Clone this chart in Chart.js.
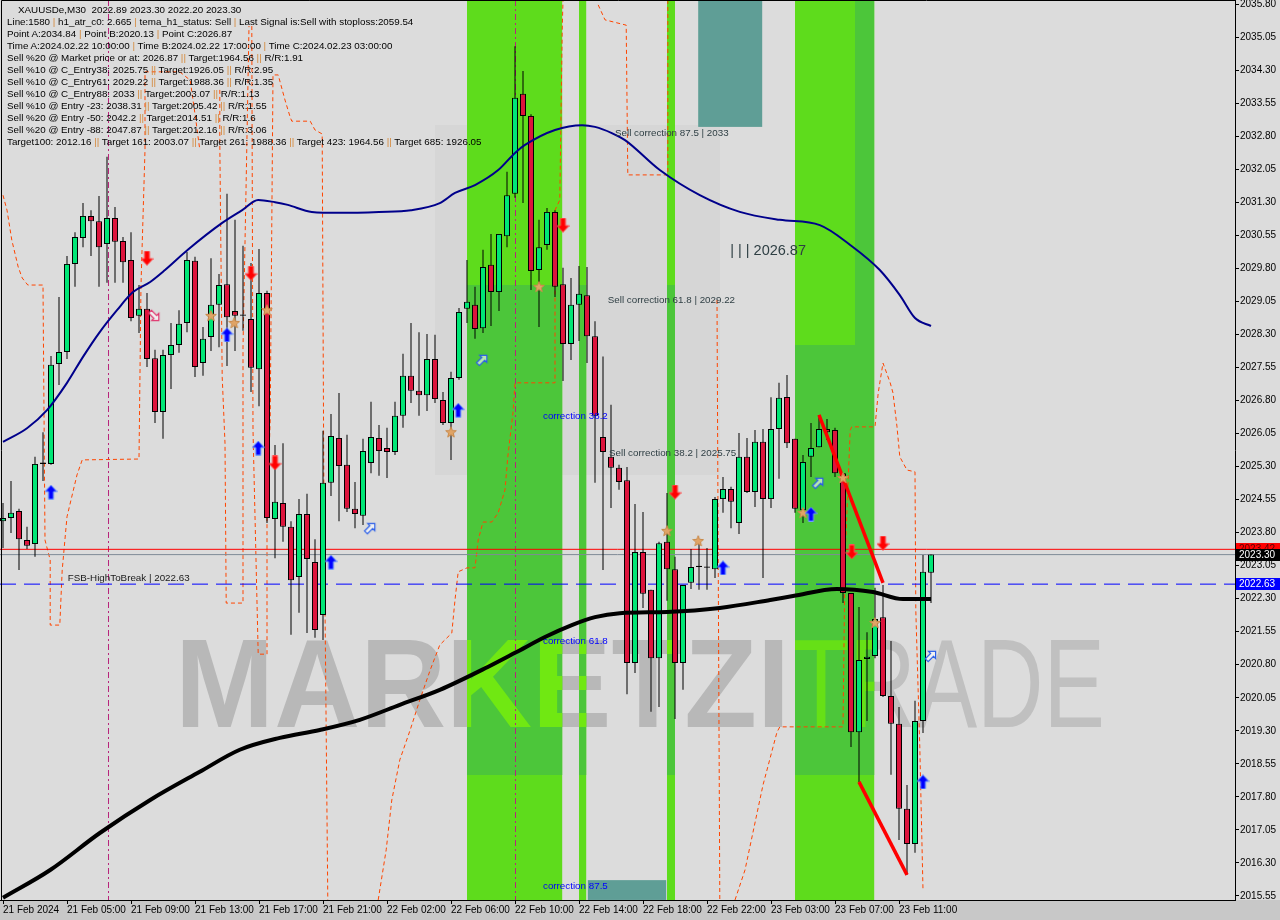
<!DOCTYPE html>
<html>
<head>
<meta charset="utf-8">
<script src="https://cdn.jsdelivr.net/npm/chart.js@4.4.1/dist/chart.umd.min.js"></script>
<style>
  html, body { margin: 0; padding: 0; background: #dcdcdc; }
  #wrap { position: relative; width: 1280px; height: 920px; overflow: hidden; }
  #chart { position: absolute; left: 0; top: 0; }
  #info { position: absolute; left: 7px; top: 4px; font: 9.8px "Liberation Sans", Arial, sans-serif; line-height: 12px; color: #000; white-space: pre; }
  #info .p { color: #d4883a; }
  #info .first { padding-left: 11px; }
</style>
</head>
<body>
<div id="wrap">
  <canvas id="chart" width="1280" height="920"></canvas>
  <div id="info"></div>
</div>
<script>
  "use strict";

  // XAUUSDe M30, bar 0 = 21 Feb 01:00
  const xTickIdx = [0, 8, 16, 24, 32, 40, 48, 56, 64, 72, 80, 88, 96, 104, 112];
  const xTickLabels = ['21 Feb 2024', '21 Feb 05:00', '21 Feb 09:00', '21 Feb 13:00', '21 Feb 17:00', '21 Feb 21:00',
    '22 Feb 02:00', '22 Feb 06:00', '22 Feb 10:00', '22 Feb 14:00', '22 Feb 18:00', '22 Feb 22:00',
    '23 Feb 03:00', '23 Feb 07:00', '23 Feb 11:00'];
  const yTicks = [2015.55, 2016.30, 2017.05, 2017.80, 2018.55, 2019.30, 2020.05, 2020.80, 2021.55, 2022.30,
    2023.05, 2023.80, 2024.55, 2025.30, 2026.05, 2026.80, 2027.55, 2028.30, 2029.05, 2029.80,
    2030.55, 2031.30, 2032.05, 2032.80, 2033.55, 2034.30, 2035.05, 2035.80];

  const opens = [
    2024.06, 2024.13, 2024.29, 2023.63, 2023.54, 2025.36, 2025.36, 2027.63, 2027.90, 2029.90,
    2030.49, 2030.99, 2030.87, 2030.35, 2030.94, 2030.42, 2029.99, 2028.72, 2028.88, 2027.76,
    2026.54, 2027.83, 2028.06, 2028.56, 2029.97, 2027.65, 2028.24, 2028.97, 2029.44, 2028.83,
    2028.72, 2028.65, 2027.51, 2029.24, 2024.11, 2024.47, 2023.93, 2022.79, 2024.22, 2023.13,
    2021.93, 2024.93, 2025.95, 2025.34, 2024.34, 2024.18, 2025.38, 2025.95, 2025.72, 2025.63,
    2026.45, 2027.36, 2027.02, 2026.92, 2027.74, 2026.81, 2026.29, 2027.31, 2028.88, 2028.97,
    2028.44, 2029.88, 2029.26, 2030.53, 2031.49, 2033.76, 2033.26, 2029.76, 2030.33, 2031.08,
    2029.44, 2028.08, 2028.97, 2029.19, 2028.26, 2025.97, 2025.52, 2025.27, 2024.99, 2020.84,
    2023.36, 2022.50, 2020.95, 2023.59, 2022.97, 2020.84, 2022.66, 2023.02, 2023.02, 2022.97,
    2024.56, 2024.79, 2024.02, 2025.52, 2024.72, 2025.86, 2024.56, 2026.15, 2026.88, 2025.93,
    2024.31, 2025.52, 2025.74, 2026.15, 2026.13, 2025.15, 2022.43, 2019.27, 2020.93, 2021.00,
    2021.88, 2020.09, 2019.46, 2017.53, 2016.73, 2019.52, 2022.89
  ];
  const highs = [
    2024.47, 2024.97, 2024.34, 2023.93, 2025.52, 2026.08, 2027.81, 2029.15, 2030.08, 2030.62,
    2031.28, 2031.12, 2031.44, 2032.33, 2031.19, 2030.51, 2030.62, 2029.42, 2029.24, 2027.95,
    2027.95, 2028.56, 2028.85, 2030.17, 2030.06, 2028.47, 2030.03, 2029.67, 2031.49, 2030.90,
    2030.31, 2029.92, 2030.24, 2029.29, 2025.79, 2025.83, 2024.06, 2024.56, 2024.68, 2023.65,
    2026.11, 2026.49, 2026.97, 2026.02, 2024.95, 2025.93, 2026.77, 2026.24, 2026.18, 2026.77,
    2027.86, 2028.56, 2028.35, 2028.31, 2028.29, 2026.99, 2027.45, 2028.90, 2029.99, 2029.38,
    2030.22, 2030.58, 2030.58, 2031.99, 2034.84, 2034.28, 2033.30, 2030.90, 2031.17, 2031.12,
    2029.81, 2029.58, 2029.85, 2029.83, 2028.60, 2027.80, 2026.70, 2025.34, 2025.29, 2024.45,
    2024.27, 2022.50, 2023.59, 2024.70, 2023.25, 2022.61, 2023.43, 2023.59, 2023.45, 2024.61,
    2025.06, 2024.84, 2026.06, 2025.95, 2026.13, 2026.15, 2026.87, 2027.20, 2027.38, 2025.93,
    2025.56, 2026.29, 2026.47, 2026.38, 2026.18, 2025.15, 2022.43, 2022.11, 2021.54, 2022.55,
    2022.61, 2021.34, 2019.84, 2018.07, 2019.98, 2023.29, 2023.30
  ];
  const lows = [
    2023.45, 2023.79, 2022.95, 2023.43, 2023.25, 2024.97, 2025.34, 2027.15, 2027.74, 2029.38,
    2030.28, 2030.08, 2029.38, 2029.47, 2029.47, 2029.47, 2028.60, 2028.33, 2027.56, 2026.29,
    2025.93, 2027.06, 2027.88, 2028.35, 2027.33, 2027.36, 2027.92, 2028.01, 2027.58, 2027.92,
    2028.38, 2026.99, 2026.67, 2024.02, 2023.22, 2023.59, 2021.48, 2021.98, 2021.52, 2021.41,
    2021.36, 2024.63, 2024.06, 2024.27, 2023.90, 2023.97, 2025.15, 2025.09, 2025.04, 2025.56,
    2026.18, 2026.74, 2026.45, 2026.56, 2026.74, 2026.24, 2025.45, 2027.27, 2028.56, 2028.20,
    2028.33, 2028.49, 2028.83, 2030.28, 2031.40, 2031.28, 2029.31, 2028.47, 2030.22, 2029.15,
    2027.24, 2027.72, 2028.15, 2027.65, 2024.93, 2022.95, 2024.36, 2024.77, 2020.13, 2020.61,
    2022.09, 2019.73, 2019.84, 2022.25, 2019.57, 2020.23, 2022.52, 2022.50, 2022.50, 2022.77,
    2024.25, 2023.90, 2023.77, 2024.70, 2024.38, 2022.77, 2024.36, 2025.02, 2025.72, 2024.25,
    2024.02, 2025.06, 2025.74, 2025.90, 2025.06, 2022.20, 2018.93, 2018.14, 2019.52, 2020.95,
    2020.07, 2018.30, 2016.82, 2016.03, 2016.53, 2019.25, 2022.20
  ];
  const closes = [
    2024.13, 2024.25, 2023.65, 2023.50, 2025.36, 2025.36, 2027.61, 2027.90, 2029.90, 2030.51,
    2030.99, 2030.87, 2030.28, 2030.94, 2030.40, 2029.94, 2028.67, 2028.88, 2027.74, 2026.54,
    2027.83, 2028.06, 2028.54, 2029.99, 2027.56, 2028.20, 2028.97, 2029.42, 2028.69, 2028.72,
    2028.72, 2027.54, 2029.24, 2024.13, 2024.50, 2023.93, 2022.72, 2024.22, 2023.20, 2021.59,
    2024.93, 2025.99, 2025.31, 2024.34, 2024.22, 2025.65, 2025.97, 2025.65, 2025.63, 2026.45,
    2027.36, 2027.02, 2026.92, 2027.74, 2026.83, 2026.29, 2027.31, 2028.81, 2029.04, 2028.42,
    2029.83, 2029.26, 2030.58, 2031.46, 2033.67, 2033.26, 2029.74, 2030.28, 2031.08, 2029.38,
    2028.08, 2028.97, 2029.22, 2028.26, 2026.45, 2025.63, 2025.27, 2024.95, 2020.84, 2023.36,
    2022.41, 2020.95, 2023.56, 2022.97, 2020.84, 2022.61, 2023.02, 2023.02, 2023.00, 2024.56,
    2024.79, 2024.50, 2025.52, 2024.72, 2025.86, 2024.56, 2026.15, 2026.86, 2025.83, 2024.34,
    2025.40, 2025.72, 2026.15, 2026.08, 2025.15, 2022.43, 2019.27, 2020.91, 2020.98, 2021.84,
    2020.09, 2019.46, 2017.53, 2016.73, 2019.52, 2022.91, 2023.30
  ];

  // moving averages (bar index, price)
  const blueMaIdx = [0, 3, 5.5, 8, 10, 12, 14.25, 16.25, 18.4, 20.25, 23.1, 27.4, 29.9, 31.9, 34, 35.6, 38.6, 42, 47, 51,
    54.6, 56.5, 59, 61.9, 64, 65.25, 69, 72.4, 74, 76.1, 77.75, 82.1, 87.1, 92.1, 97.1, 102.1, 105.9, 109.6, 112.1, 114, 116];
  const blueMaVal = [2025.86, 2026.17, 2026.58, 2027.20, 2027.79, 2028.33, 2028.85, 2029.26, 2029.49, 2029.76,
    2030.22, 2030.83, 2031.12, 2031.35, 2031.30, 2031.24, 2031.08, 2031.06, 2031.08, 2031.12,
    2031.28, 2031.51, 2031.69, 2032.03, 2032.42, 2032.60, 2032.94, 2033.05, 2033.01, 2032.87,
    2032.71, 2032.03, 2031.46, 2031.08, 2030.90, 2030.78, 2030.33, 2029.76, 2029.19, 2028.67, 2028.49];
  const blackMaIdx = [0, 5.9, 12.1, 18.4, 24.6, 29.6, 34.6, 39.6, 44.6, 49.6, 54.6, 60.6, 64, 67.75, 71.1, 74, 77.1,
    83, 89.6, 95.9, 98.75, 104.25, 108.75, 112.5, 116];
  const blackMaVal = [2015.51, 2016.14, 2016.98, 2017.73, 2018.37, 2018.87, 2019.14, 2019.32, 2019.55, 2019.89,
    2020.23, 2020.75, 2021.07, 2021.43, 2021.70, 2021.88, 2021.97, 2022.00, 2022.09, 2022.27,
    2022.36, 2022.52, 2022.45, 2022.29, 2022.29];

  // orange dashed channel, null = break
  const orangeIdx = [0, 0.5, 1.1, 1.9, 2.4, 3.1, 5, 5.25, 5.9, 5.9, 7.1, 7.4, 8, 9.25, 9.9, 17, 17.25, 17.75, 17.75, 22.1, 23.4, 24.1, 24.6, 24.6,
    27.1, 27.1, 27.4, 27.75, 27.9, 30, 30, 30.4, 30.75, 30.75,
    31.1, 31.25, 31.9, 33, 33, 33.4, 33.75, 34.4, 35.25, 35.9, 36.1, 38.4, 39, 39.9, 40.1, 40.6, 40.6,
    46.9, 47.9, 48.6, 49.6, 50.9, 52.1, 53.4, 54.6, 56.1, 56.5, 56.9, 58, 59, 59.4, 60, 61.1, 61.9, 62.75, 63.1, 63.75, 64, 69, 69, 69.6, 69.9, 70, 70,
    74.4, 75.25, 77.9, 78.1, 83.1, 83.1, 83.1,
    89.25, 89.6, 89.6,
    91.5, 92.75, 95, 95.6, 96.25, 96.75, 97.1, 105, 105.25, 105.9, 106.1, 109, 109.4, 110, 110.9, 111.25, 111.75, 112.1, 113, 114, 114.1, 114.6, 115];
  const orangeVal = [2031.46, 2031.12, 2030.44, 2029.83, 2029.58, 2029.42, 2029.42, 2023.63, 2023.18, 2021.70, 2021.70, 2022.95, 2024.16, 2025.11, 2025.45, 2025.47, 2029.42, 2032.49, 2034.26, 2034.26, 2034.07, 2033.17, 2032.49, null,
    2033.85, 2032.65, 2027.33, 2025.83, 2022.20, 2022.20, 2028.01, 2031.80, 2035.30, null,
    2035.30, 2026.13, 2021.04, 2021.04, 2024.20, 2026.36, 2034.19, 2034.19, 2033.62, 2033.23, 2033.14, 2033.14, 2032.94, 2032.85, 2024.99, 2015.46, null,
    2015.46, 2016.60, 2017.73, 2018.64, 2019.32, 2020.00, 2020.68, 2021.25, 2021.52, 2022.27, 2022.91, 2023.00, 2023.00, 2023.63, 2024.04, 2024.04, 2024.25, 2024.77, 2025.52, 2026.52, 2027.20, 2027.20, 2031.12, 2031.35, 2035.21, 2035.89, null,
    2035.78, 2035.44, 2035.32, 2031.92, 2031.92, 2035.89, null,
    2029.08, 2015.46, null,
    2015.46, 2016.14, 2018.07, 2018.48, 2018.93, 2019.27, 2019.39, 2019.39, 2023.18, 2026.13, 2026.20, 2026.20, 2026.97, 2027.65, 2027.20, 2026.97, 2026.20, 2025.52, 2025.22, 2025.18, 2022.04, 2018.93, 2015.69];

  // ABC pattern legs
  const legOneIdx = [102, 110];
  const legOneVal = [2026.47, 2022.66];
  const legTwoIdx = [107, 113];
  const legTwoVal = [2018.14, 2016.03];

  // signal markers
  const sellArrowIdx = [18, 31, 34, 70, 84, 106.1, 110];
  const sellArrowVal = [2030.03, 2029.69, 2025.38, 2030.78, 2024.72, 2023.36, 2023.56];
  const buyArrowIdx = [6, 28, 31.9, 41, 56.9, 90, 101, 115];
  const buyArrowVal = [2024.72, 2028.29, 2025.72, 2023.13, 2026.58, 2023.00, 2024.22, 2018.14];
  const hollowUpIdx = [45.9, 59.9, 101.9, 116];
  const hollowUpVal = [2023.90, 2027.72, 2024.93, 2021.00];
  const hollowDownIdx = [18.9];
  const hollowDownVal = [2028.72];
  const starIdx = [26, 28.9, 33, 56, 67, 83, 86.9, 100, 105, 109];
  const starVal = [2028.72, 2028.56, 2028.85, 2026.08, 2029.38, 2023.84, 2023.61, 2024.25, 2025.04, 2021.75];

  // zones
  const bandFrom = [58, 72, 83, 99];
  const bandTo = [69.9, 72.9, 84, 108.9];
  const boxFrom = [86.9, 73.1];
  const boxTo = [94.9, 82.9];
  const boxLow = [2033.01, 2015.46];
  const boxHigh = [2035.89, 2015.91];
  const sepIdx = [13.1, 64];

  const askPrice = 2023.42;
  const bidPrice = 2023.30;
  const fsbPrice = 2022.63;

  const noteTexts = ['Sell correction 87.5 | 2033', '| | | 2026.87', 'Sell correction 61.8 | 2029.22', 'correction 38.2',
    'Sell correction 38.2 | 2025.75', 'correction 61.8', 'correction 87.5', 'FSB-HighToBreak | 2022.63'];
  const noteIdx = [76.5, 90.9, 75.6, 67.5, 75.75, 67.5, 67.5, 8.1];
  const noteVal = [2032.87, 2030.19, 2029.08, 2026.45, 2025.61, 2021.34, 2015.78, 2022.77];
  const noteKind = ['dark', 'big', 'dark', 'blue', 'dark', 'blue', 'blue', 'black'];

  const infoLines = [
    'XAUUSDe,M30  2022.89 2023.30 2022.20 2023.30',
    'Line:1580 | h1_atr_c0: 2.665 | tema_h1_status: Sell | Last Signal is:Sell with stoploss:2059.54',
    'Point A:2034.84 | Point B:2020.13 | Point C:2026.87',
    'Time A:2024.02.22 10:00:00 | Time B:2024.02.22 17:00:00 | Time C:2024.02.23 03:00:00',
    'Sell %20 @ Market price or at: 2026.87 || Target:1964.56 || R/R:1.91',
    'Sell %10 @ C_Entry38: 2025.75 || Target:1926.05 || R/R:2.95',
    'Sell %10 @ C_Entry61: 2029.22 || Target:1988.36 || R/R:1.35',
    'Sell %10 @ C_Entry88: 2033 || Target:2003.07 || R/R:1.13',
    'Sell %10 @ Entry -23: 2038.31 || Target:2005.42 || R/R:1.55',
    'Sell %20 @ Entry -50: 2042.2 || Target:2014.51 || R/R:1.6',
    'Sell %20 @ Entry -88: 2047.87 || Target:2012.16 || R/R:3.06',
    'Target100: 2012.16 || Target 161: 2003.07 || Target 261: 1988.36 || Target 423: 1964.56 || Target 685: 1926.05'
  ];

  document.getElementById('info').innerHTML = infoLines.map(function (l, i) {
    const html = l.replace(/\|/g, '<span class="p">|</span>');
    return i === 0 ? '<span class="first">' + html + '</span>' : html;
  }).join('\n');

  const FONT = '"Liberation Sans", Arial, sans-serif';
  const GREEN = '#00e676';
  const RED = '#dc143c';

  // marker images
  function arrowImage(fill, edge, up) {
    const c = document.createElement('canvas');
    c.width = 13; c.height = 15;
    const g = c.getContext('2d');
    let pts = [[6.5, 0.5], [12.5, 7], [9, 7], [9, 14.5], [4, 14.5], [4, 7], [0.5, 7]];
    if (!up) pts = pts.map(p => [p[0], 15 - p[1]]);
    g.beginPath();
    pts.forEach((p, i) => i ? g.lineTo(p[0], p[1]) : g.moveTo(p[0], p[1]));
    g.closePath();
    g.fillStyle = fill; g.fill();
    g.strokeStyle = edge; g.lineWidth = 1; g.stroke();
    return c;
  }
  function hollowImage(color, angle) {
    const c = document.createElement('canvas');
    c.width = 16; c.height = 16;
    const g = c.getContext('2d');
    g.translate(8, 8); g.rotate(angle);
    g.beginPath();
    [[0, -6.5], [5, -1.5], [2, -1.5], [2, 6], [-2, 6], [-2, -1.5], [-5, -1.5]].forEach((p, i) => i ? g.lineTo(p[0], p[1]) : g.moveTo(p[0], p[1]));
    g.closePath();
    g.fillStyle = 'rgba(255,255,255,0.6)'; g.fill();
    g.strokeStyle = color; g.lineWidth = 1.2; g.stroke();
    return c;
  }
  function starImage() {
    const c = document.createElement('canvas');
    c.width = 12; c.height = 12;
    const g = c.getContext('2d');
    g.beginPath();
    for (let k = 0; k < 10; k++) {
      const r = k % 2 ? 2.4 : 5.6;
      const a = -Math.PI / 2 + k * Math.PI / 5;
      const x = 6 + r * Math.cos(a), y = 6.3 + r * Math.sin(a);
      k ? g.lineTo(x, y) : g.moveTo(x, y);
    }
    g.closePath();
    g.fillStyle = '#e0a466'; g.fill();
    g.strokeStyle = '#c98a4a'; g.stroke();
    return c;
  }

  const pairs = (xs, ys) => xs.map((x, i) => ({ x: x, y: ys[i] }));
  const bars = opens.map((o, i) => i);

  const wickData = bars.map(i => ({ x: i, y: [lows[i], highs[i]] }));
  const bodyData = bars.map(i => {
    const lo = Math.min(opens[i], closes[i]);
    const hi = Math.max(opens[i], closes[i]);
    return { x: i, y: [lo, Math.max(hi, lo + 0.03)] };
  });
  const bodyColors = bars.map(i => closes[i] >= opens[i] ? GREEN : RED);

  const xMin = -0.375;
  const xMax = 154;
  const yMin = 2015.459;
  const yMax = 2035.891;

  const flatLine = price => [{ x: xMin, y: price }, { x: xMax, y: price }];

  function watermark(ctx, boldColor, thinColor) {
    ctx.textBaseline = 'alphabetic';
    ctx.fillStyle = boldColor;
    ctx.font = 'bold 126px ' + FONT;
    ctx.fillText('MARKETZI', 175, 727, 615);
    ctx.fillStyle = thinColor;
    ctx.font = '126px ' + FONT;
    ctx.fillText('TRADE', 793, 727, 312);
  }

  const backdrop = {
    id: 'backdrop',
    beforeDraw(chart) {
      const ctx = chart.ctx;
      const a = chart.chartArea;
      ctx.save();
      ctx.fillStyle = '#dcdcdc';
      ctx.fillRect(0, 0, chart.width, chart.height);
      ctx.fillStyle = '#c8c8c8';
      ctx.fillRect(0, a.bottom, chart.width, chart.height - a.bottom);
      ctx.restore();
    },
    beforeDatasetsDraw(chart) {
      const ctx = chart.ctx;
      const a = chart.chartArea;
      const x = chart.scales.x, y = chart.scales.y;
      ctx.save();
      ctx.beginPath();
      ctx.rect(a.left, a.top, a.right - a.left, a.bottom - a.top);
      ctx.clip();

      // faint logo block behind the zones
      ctx.fillStyle = 'rgba(0,0,0,0.025)';
      ctx.fillRect(435, 125, 285, 350);

      watermark(ctx, 'rgba(140,140,140,0.45)', 'rgba(150,150,150,0.4)');

      // signal zones
      bandFrom.forEach((f, i) => {
        const l = x.getPixelForValue(f), r = x.getPixelForValue(bandTo[i]);
        ctx.fillStyle = '#5edc1c';
        ctx.fillRect(l, a.top, r - l, a.bottom - a.top);
        ctx.fillStyle = '#4cc63a';
        if (i < 3) {
          ctx.fillRect(l, 285, r - l, 490);
        } else {
          ctx.fillRect(l, 345, r - l, 430);
          ctx.fillRect(855, a.top, r - 855, 345);
        }
      });
      // watermark letters lighten inside the zones
      ctx.save();
      ctx.beginPath();
      bandFrom.forEach((f, i) => {
        const l = x.getPixelForValue(f), r = x.getPixelForValue(bandTo[i]);
        ctx.rect(l, a.top, r - l, a.bottom - a.top);
      });
      ctx.clip();
      watermark(ctx, '#70e812', '#66e016');
      ctx.restore();

      ctx.fillStyle = '#5f9e96';
      boxFrom.forEach((f, i) => {
        const l = x.getPixelForValue(f), r = x.getPixelForValue(boxTo[i]);
        const t = y.getPixelForValue(boxHigh[i]), b = y.getPixelForValue(boxLow[i]);
        ctx.fillRect(l, t, r - l, b - t);
      });

      // separators
      ctx.strokeStyle = '#b8247c';
      ctx.lineWidth = 1;
      ctx.setLineDash([6, 3, 2, 3]);
      sepIdx.forEach(v => {
        const px = Math.round(x.getPixelForValue(v)) + 0.5;
        ctx.beginPath(); ctx.moveTo(px, a.top); ctx.lineTo(px, a.bottom); ctx.stroke();
      });
      ctx.restore();
    },
    afterDatasetsDraw(chart) {
      const ctx = chart.ctx;
      const x = chart.scales.x, y = chart.scales.y;
      ctx.save();
      ctx.textBaseline = 'middle';
      ctx.textAlign = 'left';
      noteTexts.forEach((t, i) => {
        const k = noteKind[i];
        ctx.font = (k === 'big' ? '14.5px ' : '9.8px ') + FONT;
        ctx.fillStyle = k === 'blue' ? '#0000ff' : (k === 'black' ? '#1a1a1a' : '#2f3f44');
        ctx.fillText(t, x.getPixelForValue(noteIdx[i]), y.getPixelForValue(noteVal[i]));
      });

      // price tags on the axis
      const a = chart.chartArea;
      const tag = (price, bg, fg) => {
        const py = Math.round(y.getPixelForValue(price));
        ctx.fillStyle = bg;
        ctx.fillRect(a.right + 1, py - 6, chart.width - a.right - 1, 12);
        ctx.fillStyle = fg;
        ctx.font = '10px ' + FONT;
        ctx.fillText(price.toFixed(2), a.right + 4, py);
      };
      tag(askPrice, '#ff0000', '#5a0000');
      tag(bidPrice, '#000000', '#ffffff');
      tag(fsbPrice, '#0000ff', '#ffffff');

      // frame
      ctx.strokeStyle = '#000';
      ctx.lineWidth = 1;
      ctx.beginPath();
      ctx.moveTo(1.5, a.bottom); ctx.lineTo(1.5, 0.5); ctx.lineTo(a.right, 0.5);
      ctx.stroke();
      ctx.restore();
    }
  };

  const config = {
    type: 'bar',
    data: {
      datasets: [
        { type: 'line', data: pairs(orangeIdx, orangeVal), borderColor: '#ff4500', borderWidth: 1, borderDash: [4, 3],
          pointRadius: 0, spanGaps: false, tension: 0, order: 20 },
        { type: 'line', data: flatLine(askPrice), borderColor: '#ff0000', borderWidth: 1, pointRadius: 0, order: 19 },
        { type: 'line', data: flatLine(bidPrice), borderColor: '#7f8b97', borderWidth: 1, pointRadius: 0, order: 19 },
        { type: 'line', data: flatLine(fsbPrice), borderColor: '#0000ff', borderWidth: 1, borderDash: [16, 8], pointRadius: 0, order: 19 },
        { data: wickData, backgroundColor: '#000', borderWidth: 0, barThickness: 1, grouped: false, inflateAmount: 0, order: 12 },
        { data: bodyData, backgroundColor: bodyColors, borderColor: '#000', borderWidth: 1, borderSkipped: false,
          barThickness: 6, grouped: false, inflateAmount: 0, order: 11 },
        { type: 'line', data: pairs(blackMaIdx, blackMaVal), borderColor: '#000', borderWidth: 4, pointRadius: 0,
          cubicInterpolationMode: 'monotone', order: 9 },
        { type: 'line', data: pairs(blueMaIdx, blueMaVal), borderColor: '#00008b', borderWidth: 2, pointRadius: 0,
          cubicInterpolationMode: 'monotone', order: 8 },
        { type: 'line', data: pairs(legOneIdx, legOneVal), borderColor: '#ff0000', borderWidth: 3.5, pointRadius: 0, order: 7 },
        { type: 'line', data: pairs(legTwoIdx, legTwoVal), borderColor: '#ff0000', borderWidth: 3.5, pointRadius: 0, order: 7 },
        { type: 'scatter', data: pairs(starIdx, starVal), pointStyle: starImage(), order: 6 },
        { type: 'scatter', data: pairs(sellArrowIdx, sellArrowVal), pointStyle: arrowImage('#ff0000', '#ff5050', false), order: 5 },
        { type: 'scatter', data: pairs(buyArrowIdx, buyArrowVal), pointStyle: arrowImage('#0000ff', '#6f9cff', true), order: 5 },
        { type: 'scatter', data: pairs(hollowUpIdx, hollowUpVal), pointStyle: hollowImage('#2a5ee8', Math.PI / 4), order: 5 },
        { type: 'scatter', data: pairs(hollowDownIdx, hollowDownVal), pointStyle: hollowImage('#e0306a', Math.PI * 3 / 4), order: 5 }
      ]
    },
    options: {
      responsive: false,
      animation: false,
      devicePixelRatio: 1,
      layout: { padding: 0, autoPadding: false },
      plugins: { legend: { display: false }, tooltip: { enabled: false } },
      scales: {
        x: {
          type: 'linear', min: xMin, max: xMax, offset: false,
          grid: { drawOnChartArea: false, offset: false, tickLength: 4, tickColor: '#000' },
          border: { color: '#000' },
          ticks: {
            autoSkip: false, maxRotation: 0, align: 'start', padding: 0, color: '#000',
            font: { family: FONT, size: 10 },
            callback: function (value) {
              const k = xTickIdx.indexOf(value);
              return k >= 0 ? xTickLabels[k] : '';
            }
          },
          afterBuildTicks: function (axis) { axis.ticks = xTickIdx.map(v => ({ value: v })); },
          afterFit: function (axis) { axis.height = 20; axis.paddingLeft = 0; axis.paddingRight = 0; }
        },
        y: {
          type: 'linear', position: 'right', min: yMin, max: yMax,
          grid: { drawOnChartArea: false, tickLength: 4, tickColor: '#000' },
          border: { color: '#000' },
          ticks: {
            padding: 1, color: '#000', font: { family: FONT, size: 10 },
            callback: function (value) { return Number(value).toFixed(2); }
          },
          afterBuildTicks: function (axis) { axis.ticks = yTicks.map(v => ({ value: v })); },
          afterFit: function (axis) { axis.width = 45; axis.paddingTop = 0; axis.paddingBottom = 0; }
        }
      }
    },
    plugins: [backdrop]
  };

  const chart = new Chart(document.getElementById('chart'), config);
</script>
</body>
</html>
